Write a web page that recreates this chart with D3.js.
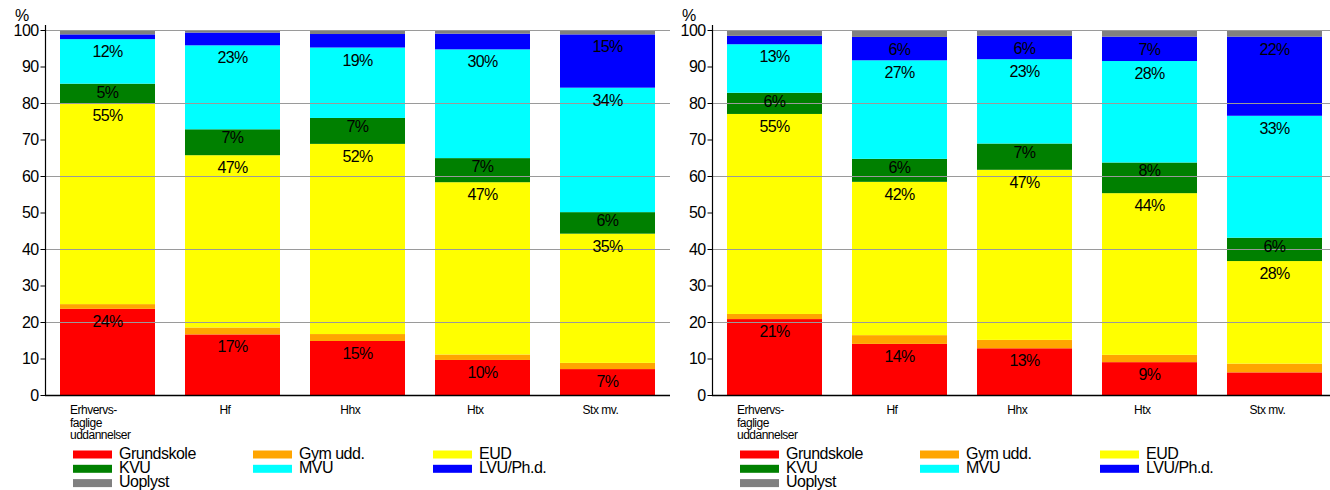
<!DOCTYPE html>
<html>
<head>
<meta charset="utf-8">
<script src="https://cdn.jsdelivr.net/npm/d3@7"></script>
<style>
  html, body { margin: 0; padding: 0; background: #fff; }
  svg { display: block; font-family: Arial, "Liberation Sans", sans-serif; }
</style>
</head>
<body>
<svg id="chart" width="1330" height="490"></svg>
<script>
// ---------------- DATA ----------------
const categories = [["Erhvervs-", "faglige", "uddannelser"], ["Hf"], ["Hhx"], ["Htx"], ["Stx mv."]];
const seriesNames = ["Grundskole", "Gym udd.", "EUD", "KVU", "MVU", "LVU/Ph.d.", "Uoplyst"];
const seriesColors = ["#ff0000", "#ffa500", "#ffff00", "#008000", "#00ffff", "#0000ff", "#808080"];
const yTicks = [0, 10, 20, 30, 40, 50, 60, 70, 80, 90, 100];
const gridTicks = [20, 40, 60, 80, 100];

// Left chart
const grundskoleA = [23.6, 16.6, 14.8, 9.6, 7.1];
const gymA        = [1.3, 1.9, 1.9, 1.5, 1.7];
const eudA        = [55.0, 47.2, 52.1, 47.2, 35.4];
const kvuA        = [5.4, 7.1, 7.1, 6.6, 5.9];
const mvuA        = [12.2, 23.0, 19.3, 29.8, 34.1];
const lvuA        = [1.3, 3.5, 3.7, 4.3, 14.6];
const uoplystA    = [1.2, 0.7, 1.1, 1.0, 1.2];
// labels shown on the left chart (null = no label)
const grundskoleLabA = ["24%", "17%", "15%", "10%", "7%"];
const eudLabA        = ["55%", "47%", "52%", "47%", "35%"];
const kvuLabA        = ["5%", "7%", "7%", "7%", "6%"];
const mvuLabA        = ["12%", "23%", "19%", "30%", "34%"];
const lvuLabA        = [null, null, null, null, "15%"];

// Right chart
const grundskoleB = [20.8, 14.0, 12.8, 9.0, 6.2];
const gymB        = [1.4, 2.4, 2.3, 2.0, 2.4];
const eudB        = [54.8, 42.0, 46.6, 44.3, 28.1];
const kvuB        = [5.8, 6.3, 7.2, 8.4, 6.4];
const mvuB        = [13.3, 27.0, 23.1, 27.8, 33.4];
const lvuB        = [2.3, 6.4, 6.4, 6.7, 21.7];
const uoplystB    = [1.6, 1.9, 1.6, 1.8, 1.8];
const grundskoleLabB = ["21%", "14%", "13%", "9%", null];
const eudLabB        = ["55%", "42%", "47%", "44%", "28%"];
const kvuLabB        = ["6%", "6%", "7%", "8%", "6%"];
const mvuLabB        = ["13%", "27%", "23%", "28%", "33%"];
const lvuLabB        = [null, "6%", "6%", "7%", "22%"];

// ---------------- DRAW ----------------
const svg = d3.select("#chart");

function buildRows(valueArrays, labelArrays) {
  return categories.map((c, i) => {
    const row = { cat: i };
    seriesNames.forEach((s, k) => {
      row[s] = valueArrays[k][i];
      row["lab_" + s] = labelArrays[k] ? labelArrays[k][i] : null;
    });
    return row;
  });
}

function drawChart(axisX, rightEdge, rows) {
  const g = svg.append("g");
  const x = d3.scaleBand().domain(d3.range(categories.length)).range([axisX, rightEdge]).paddingInner(0.24).paddingOuter(0.12);
  const y = d3.scaleLinear().domain([0, 100]).range([395, 30]);

  const stack = d3.stack().keys(seriesNames);
  const layers = stack(rows);

  // bars
  const lg = g.selectAll("g.layer").data(layers).join("g")
    .attr("class", "layer")
    .attr("fill", (d, i) => seriesColors[i]);
  lg.selectAll("rect").data(d => d).join("rect")
    .attr("x", d => x(d.data.cat))
    .attr("width", x.bandwidth())
    .attr("y", d => y(d[1]))
    .attr("height", d => y(d[0]) - y(d[1]));

  // gridlines on top of bars
  g.selectAll("line.grid").data(gridTicks).join("line")
    .attr("class", "grid")
    .attr("x1", axisX).attr("x2", rightEdge)
    .attr("y1", d => y(d) + 0.5).attr("y2", d => y(d) + 0.5)
    .attr("stroke", "#9a9a9a").attr("stroke-width", 1);

  // data labels
  layers.forEach((layer, k) => {
    const off = seriesNames[k] === "KVU" ? 14 : 18;
    g.selectAll(null).data(layer.filter(d => d.data["lab_" + seriesNames[k]])).join("text")
      .attr("x", d => x(d.data.cat) + x.bandwidth() / 2)
      .attr("y", d => y(d[1]) + off)
      .attr("text-anchor", "middle")
      .attr("font-size", 16)
      .attr("letter-spacing", -0.6)
      .attr("fill", "#000")
      .text(d => d.data["lab_" + seriesNames[k]]);
  });

  // y axis
  const ya = g.append("g").attr("transform", `translate(${axisX + 0.5},0)`)
    .call(d3.axisLeft(y).tickValues(yTicks).tickSize(5).tickPadding(2).tickSizeOuter(0));
  ya.select(".domain").remove();
  ya.selectAll("text").attr("font-size", 16).attr("fill", "#000").attr("font-family", "Arial, 'Liberation Sans', sans-serif").attr("letter-spacing", -0.6);
  ya.selectAll("line").attr("stroke", "#000");
  g.append("line").attr("x1", axisX + 0.5).attr("x2", axisX + 0.5).attr("y1", 25).attr("y2", 395.5).attr("stroke", "#000").attr("stroke-width", 1.2);
  g.append("text").attr("x", axisX - 23).attr("y", 21).attr("text-anchor", "middle").attr("font-size", 16).text("%");

  // x axis baseline
  g.append("line").attr("x1", axisX).attr("x2", rightEdge).attr("y1", y(0) + 0.5).attr("y2", y(0) + 0.5).attr("stroke", "#000").attr("stroke-width", 1.5);

  // x labels (multi-line blocks left aligned, block centred slightly left of the band centre)
  categories.forEach((lines, i) => {
    const t = g.append("text").attr("font-size", 12).attr("letter-spacing", -0.5).attr("fill", "#000").attr("text-anchor", "start");
    lines.forEach((ln, j) => {
      t.append("tspan").attr("x", 0).attr("y", 414 + j * 12.5).attr("text-anchor", "start").text(ln);
    });
    const w = t.node().getBBox().width;
    const cx = x(i) + x.bandwidth() / 2 - 7;
    t.attr("transform", `translate(${cx - w / 2},0)`);
  });

  // legend
  const lgd = g.append("g");
  seriesNames.forEach((s, k) => {
    const col = k % 3, row = Math.floor(k / 3);
    const lx = axisX + 28 + col * 180;
    const top = 450.5 + row * 14.3;
    lgd.append("rect").attr("x", lx).attr("y", top).attr("width", 39).attr("height", 8).attr("fill", seriesColors[k]);
    lgd.append("text").attr("x", lx + 46).attr("y", top + 8)
      .attr("font-size", 16).attr("letter-spacing", -0.5).text(s);
  });
}

drawChart(45, 670, buildRows(
  [grundskoleA, gymA, eudA, kvuA, mvuA, lvuA, uoplystA],
  [grundskoleLabA, null, eudLabA, kvuLabA, mvuLabA, lvuLabA, null]));
drawChart(712, 1337, buildRows(
  [grundskoleB, gymB, eudB, kvuB, mvuB, lvuB, uoplystB],
  [grundskoleLabB, null, eudLabB, kvuLabB, mvuLabB, lvuLabB, null]));
</script>
</body>
</html>
